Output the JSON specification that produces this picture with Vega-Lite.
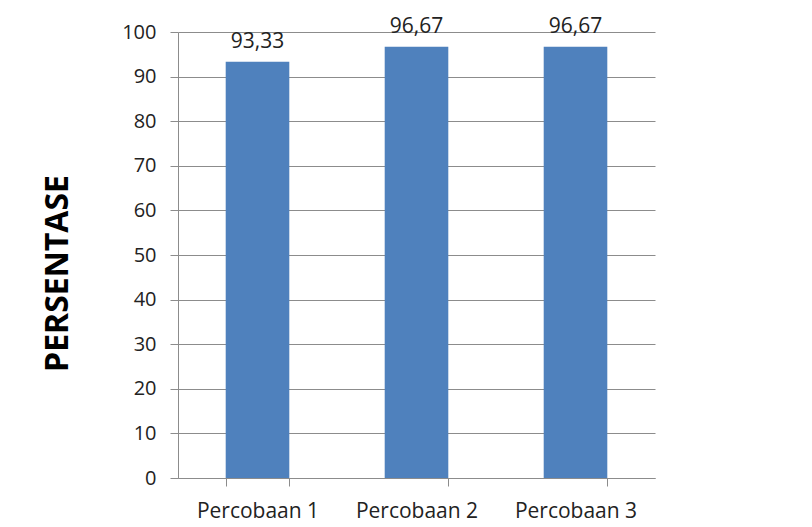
{
  "$schema": "https://vega.github.io/schema/vega-lite/v6.json",
  "width": 477,
  "height": 446,
  "autosize": "none",
  "padding": {"left": 178, "top": 32, "right": 157, "bottom": 49},
  "background": "white",
  "config": {
    "font": "Open Sans",
    "view": {"stroke": null},
    "locale": {"number": {"decimal": ",", "thousands": ".", "grouping": [3], "currency": ["", ""]}}
  },
  "data": {
    "values": [
      {"percobaan": "Percobaan 1", "persentase": 93.33},
      {"percobaan": "Percobaan 2", "persentase": 96.67},
      {"percobaan": "Percobaan 3", "persentase": 96.67}
    ]
  },
  "encoding": {
    "x": {
      "field": "percobaan",
      "type": "nominal",
      "sort": null,
      "scale": {"paddingInner": 0.6, "paddingOuter": 0.3},
      "axis": {
        "title": null,
        "labelAngle": 0,
        "labelFont": "Open Sans",
        "labelFontSize": 21,
        "labelColor": "#222222",
        "labelPadding": 14,
        "tickBand": "extent",
        "tickSize": 8,
        "tickColor": "#8c8c8c",
        "domainColor": "#8c8c8c",
        "grid": false
      }
    },
    "y": {
      "field": "persentase",
      "type": "quantitative",
      "scale": {"domain": [0, 100], "nice": false},
      "axis": {
        "title": "PERSENTASE",
        "titleFont": "Open Sans",
        "titleFontSize": 32,
        "titleFontWeight": "bold",
        "titleColor": "#000000",
        "titlePadding": 47,
        "titleY": 241,
        "values": [0, 10, 20, 30, 40, 50, 60, 70, 80, 90, 100],
        "labelFont": "Open Sans",
        "labelFontSize": 20,
        "labelColor": "#222222",
        "labelPadding": 14,
        "tickSize": 8,
        "tickColor": "#8c8c8c",
        "domainColor": "#8c8c8c",
        "grid": true,
        "gridColor": "#8c8c8c",
        "gridOpacity": 1
      }
    }
  },
  "layer": [
    {"mark": {"type": "bar", "color": "#4F81BD"}},
    {
      "mark": {"type": "text", "baseline": "bottom", "dy": -10, "font": "Open Sans", "fontSize": 21, "color": "#222222"},
      "encoding": {"text": {"field": "persentase", "type": "quantitative", "format": ".2f"}}
    }
  ]
}
